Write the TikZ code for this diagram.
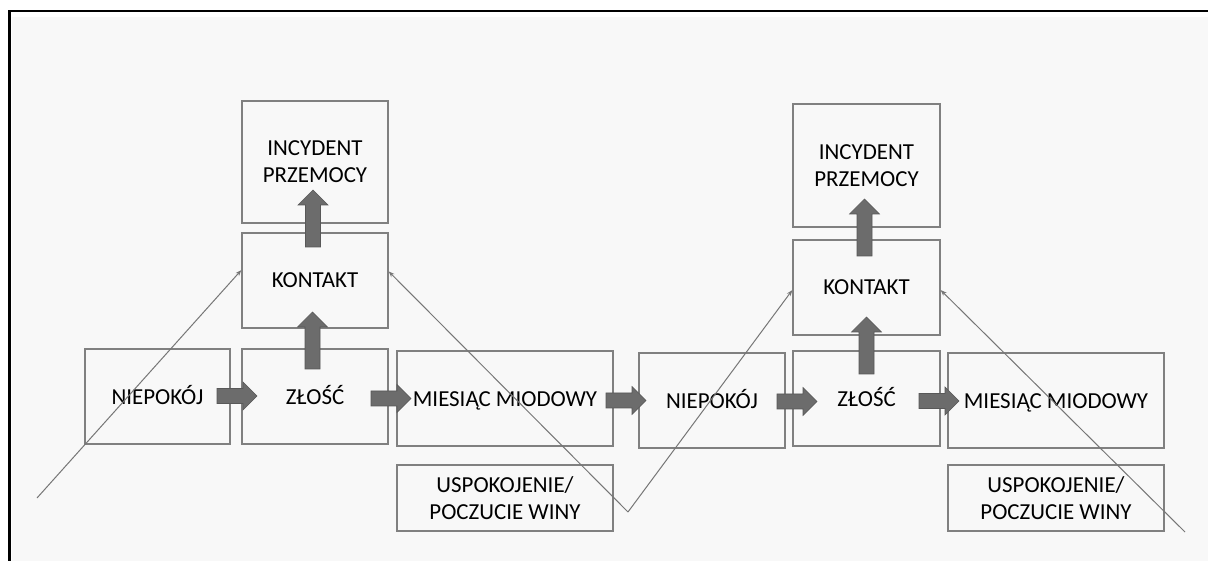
\documentclass[tikz,border=0pt]{standalone}
\usepackage{fontspec}
\setmainfont{Carlito}
\usetikzlibrary{arrows.meta}
\definecolor{boxline}{RGB}{128,128,128}
\definecolor{panel}{RGB}{248,248,248}
\definecolor{blockfill}{RGB}{108,108,108}
\definecolor{blockedge}{RGB}{88,88,88}
\definecolor{thinline}{RGB}{118,118,118}

\begin{document}
\begin{tikzpicture}[x=1bp,y=-1bp,
  stage/.style={draw=boxline, line width=1.4bp, inner sep=0pt, align=center,
    font=\fontsize{23}{27}\selectfont, text=black},
  oneline/.style={text height=15bp, text depth=0bp},
  flowarrow/.style={fill=blockfill, draw=blockedge, line width=0.6bp, line join=miter},
  cycleline/.style={draw=thinline, line width=1bp, -{Stealth[length=6bp,width=4.5bp]}},
  harrow/.pic={\path[flowarrow] (0,-7.5) -- (26,-7.5) -- (26,-14) -- (40,0)
      -- (26,14) -- (26,7.5) -- (0,7.5) -- cycle;},
  varrow/.pic={\path[flowarrow] (-7.5,0) -- (-7.5,-42) -- (-15,-42) -- (0,-57)
      -- (15,-42) -- (7.5,-42) -- (7.5,0) -- cycle;},
]
% page, panel and frame
\useasboundingbox (0,0) rectangle (1208,561);
\fill[white] (0,0) rectangle (1208,561);
\fill[panel] (12,17) rectangle (1208,561);
\draw[black, line width=2.6bp] (9.5,561) -- (9.5,11) -- (1208,11);

% first cycle
\node[stage, minimum width=146bp, minimum height=122bp] (inc1) at (315,162)
  {INCYDENT\\PRZEMOCY};
\node[stage, oneline, minimum width=146bp, minimum height=95bp] (kon1) at (315,280.5) {KONTAKT};
\node[stage, oneline, minimum width=145bp, minimum height=95bp] (nie1) at (157.5,396.5) {NIEPOKÓJ};
\node[stage, oneline, minimum width=146bp, minimum height=95bp] (zlo1) at (315,396.5) {ZŁOŚĆ};
\node[stage, oneline, minimum width=216bp, minimum height=95bp] (mie1) at (505,398.5) {MIESIĄC MIODOWY};
\node[stage, minimum width=216bp, minimum height=66bp] (usp1) at (505,498)
  {USPOKOJENIE/\\POCZUCIE WINY};

% second cycle
\node[stage, oneline, minimum width=146bp, minimum height=95bp] (nie2) at (712,400.5) {NIEPOKÓJ};
\node[stage, minimum width=147bp, minimum height=123bp] (inc2) at (866.5,165.5)
  {INCYDENT\\PRZEMOCY};
\node[stage, oneline, minimum width=147bp, minimum height=95bp] (kon2) at (866.5,287.5) {KONTAKT};
\node[stage, oneline, minimum width=147bp, minimum height=95bp] (zlo2) at (866.5,398.5) {ZŁOŚĆ};
\node[stage, oneline, minimum width=216bp, minimum height=95bp] (mie2) at (1056,400.5) {MIESIĄC MIODOWY};
\node[stage, minimum width=216bp, minimum height=66bp] (usp2) at (1056,498)
  {USPOKOJENIE/\\POCZUCIE WINY};

% block arrows between stages
\pic at (217,396) {harrow};
\pic at (371,398.5) {harrow};
\pic at (606,400.5) {harrow};
\pic at (777,401.5) {harrow};
\pic at (919,401) {harrow};
\pic at (312.5,369) {varrow};
\pic at (313,247) {varrow};
\pic at (866.5,374) {varrow};
\pic at (864.5,256) {varrow};

% thin cycle lines
\coordinate (s1) at (37,498);
\coordinate (v) at (628,512);
\coordinate (s2) at (1185,532);
\draw[cycleline] (s1) -- (kon1.172);
\draw[cycleline] (v) -- (kon1.7);
\draw[cycleline] (v) -- (kon2.182);
\draw[cycleline] (s2) -- (kon2.-2);
\end{tikzpicture}
\end{document}
